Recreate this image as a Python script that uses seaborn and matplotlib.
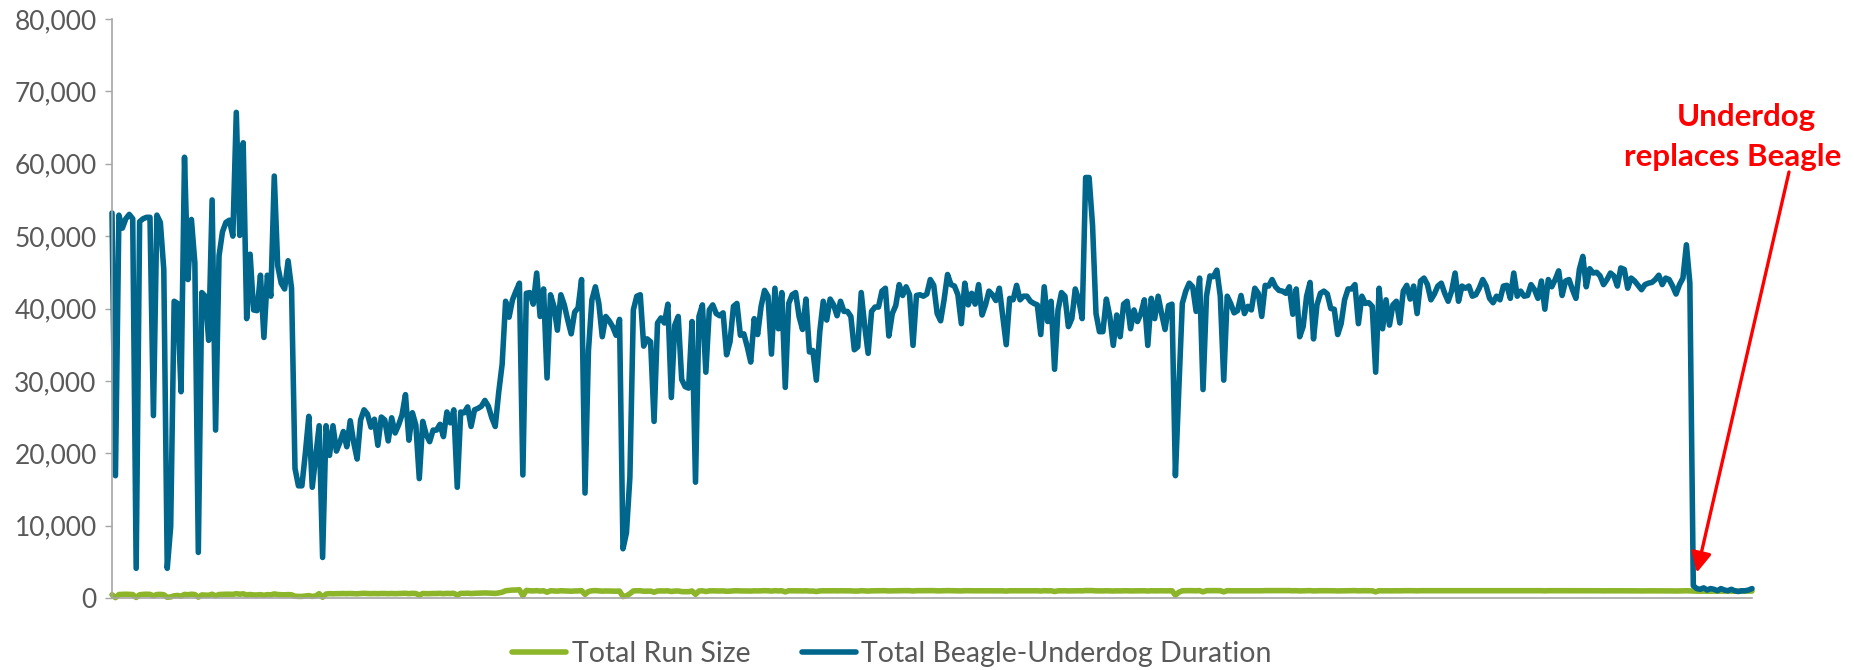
import numpy as np
import pandas as pd
import seaborn as sns
import matplotlib.pyplot as plt
from matplotlib.ticker import FuncFormatter

# Total Beagle-Underdog Duration, read left to right from the chart
duration_a = [53200, 16900, 52900, 51100, 52400, 53000, 52400, 4100, 52000, 52400, 52600, 52600, 25200, 52900,
              51900, 45400, 4100, 9900, 41000, 40700, 28500, 60900, 44000, 52300, 46300, 6300, 42200, 41700,
              35600, 55000, 23200, 47300, 50600, 51900, 52200, 50000, 67100, 50100, 62900, 38600, 47500, 39800,
              39700, 44600, 36000, 44600, 41700, 58300, 45900, 43500, 42700, 46600, 42800, 17900, 15500, 15500,
              20000, 25100, 15300, 19500]
duration_b = [23800, 5600, 23800, 19700, 23800, 20300, 21500, 23000, 20900, 24500, 21500, 19200, 24600, 26000,
              25400, 23600, 24700, 21100, 25000, 24600, 21700, 24900, 22800, 23900, 25300, 28100, 21800, 25600,
              23900, 16500, 24400, 22600, 21600, 23200, 23200, 24000, 22300, 25700, 24200, 26000, 15300, 25700,
              25600, 26400, 23700, 26000, 26200, 26500, 27300, 26500, 24900, 23700, 28400, 32300, 41000, 38800,
              41200, 42400, 43500, 17000, 42100]
duration_c = [42200, 40600, 44900, 38900, 42700, 30400, 41900, 40300, 37000, 41900, 40500, 38400, 36500, 39500,
              40100, 44000, 14500, 34200, 41200, 43000, 40700, 36100, 38900, 38300, 37500, 36300, 38500, 6800,
              9000, 16700, 39800, 41700, 41900, 34800, 35800, 35400, 24400, 38000, 38700, 38000, 40600, 27700,
              37700, 38900, 30200, 29200, 29000, 38200, 16000, 38900, 40500, 31200, 39800, 40500, 39300,
              39000, 39400, 33600, 35400, 40300, 40700]
duration_d = [36300, 36500, 34700, 32600, 38600, 36400, 40300, 42500, 41700, 33700, 42800, 37200, 42200, 29100,
              40700, 41900, 42200, 38900, 37100, 41300, 34000, 34200, 30100, 36800, 41000, 38400, 41300, 40500,
              39000, 41000, 39600, 39600, 38900, 34300, 34700, 42200, 37600, 33800, 39600, 40200, 40200, 42400,
              42800, 36200, 39300, 40400, 43300, 41800, 43000, 41900, 34900, 41800, 41900, 41700, 42000, 44000,
              43200, 39300, 38300, 41200, 44700]
duration_e = [43300, 43100, 41900, 37900, 43500, 40500, 42100, 40600, 43300, 39100, 40500, 42400, 41900, 41100,
              42800, 38900, 35000, 41400, 41200, 43200, 41200, 41700, 41700, 41000, 40700, 40500, 36400, 43000,
              38200, 41000, 31600, 39800, 42200, 41700, 37500, 38600, 42700, 41200, 38600, 58100, 58100, 51500,
              39300, 36800, 36800, 41300, 38900, 34900, 39100, 36100, 40600, 41000, 37200, 39800, 38200, 39300,
              41200, 34900, 41400, 38600, 41700]
duration_f = [39300, 37100, 40400, 40600, 16900, 29000, 40700, 42400, 43500, 43000, 39600, 44200, 28800, 41700,
              44500, 44400, 45300, 41700, 30100, 41700, 40700, 39400, 39700, 41800, 39300, 40300, 39800, 42800,
              42100, 38900, 43200, 43100, 44000, 43000, 42500, 42400, 42100, 43000, 39200, 42700, 36100, 37500,
              41700, 43600, 35800, 40500, 42100, 42400, 42000, 40000, 39900, 36400, 37900, 41200, 42700, 42700,
              43300, 37900, 41700, 40700, 40800]
duration_g = [40300, 31200, 42800, 37200, 41200, 37700, 40500, 41000, 38000, 42400, 43200, 41300, 43100, 39300,
              43800, 44200, 43300, 41200, 42000, 43100, 43500, 42100, 41000, 42400, 44900, 41000, 43100, 42800,
              43100, 41700, 41900, 42800, 44000, 43100, 41400, 40800, 41700, 41200, 43100, 43200, 41400,
              44900, 41700, 42400, 41700, 41800, 43300, 42600, 41400, 43800, 39900, 44000, 43000, 44000, 45200,
              41800, 43800, 44000, 42600, 41400, 45400]
duration_h = [47200, 43000, 45500, 44900, 45000, 44500, 43300, 44000, 44900, 44500, 43100, 45600, 45400, 42800,
              44200, 43800, 43200, 42600, 43300, 43500, 43600, 44000, 44600, 43300, 44200, 44000, 43100, 42000,
              43300, 44200, 48800, 43500]
duration_underdog = [1700, 1300, 1200, 1400, 1100, 1300, 1200, 1000, 1300, 1100, 1000, 1200, 1000, 900, 1000,
                     1000, 1100, 1300]

# Total Run Size
run_size_a = [450, 50, 480, 500, 520, 500, 480, 80, 450, 500, 520, 500, 300, 480, 500, 450, 100, 150, 300, 350,
              250, 500, 450, 520, 480, 120, 420, 400, 380, 520, 300, 480, 500, 520, 520, 500, 600, 520, 580, 420,
              480, 420, 420, 460, 380, 460, 440, 560, 480, 450, 440, 470, 440, 250, 220, 220, 280, 330, 220, 280]
run_size_b = [600, 100, 550, 600, 580, 600, 600, 620, 600, 620, 600, 580, 620, 640, 620, 600, 620, 600, 620, 620,
              600, 620, 600, 620, 640, 650, 600, 640, 620, 400, 620, 600, 600, 620, 620, 640, 600, 640, 620, 650,
              400, 640, 640, 660, 620, 650, 660, 680, 700, 680, 650, 640, 700, 800, 1000, 1050, 1100, 1100, 1150,
              300, 1050]
run_size_c = [1000, 980, 1020, 960, 1000, 800, 1000, 980, 950, 1000, 980, 960, 940, 970, 980, 1020, 500, 900, 1000,
              1020, 990, 950, 970, 960, 950, 940, 960, 200, 300, 600, 980, 1000, 1000, 940, 950, 950, 800, 970,
              980, 970, 990, 900, 960, 970, 880, 870, 870, 970, 500, 970, 990, 900, 980, 990, 980, 970, 980,
              930, 950, 990, 1000]
run_size_d = [980, 980, 970, 960, 990, 980, 1000, 1010, 1000, 960, 1010, 980, 1000, 850, 1000, 1000, 1010, 990,
              980, 1000, 960, 960, 900, 980, 1000, 990, 1000, 1000, 990, 1000, 990, 990, 990, 960, 960, 1010, 980,
              960, 990, 1000, 1000, 1010, 1010, 980, 990, 1000, 1020, 1010, 1020, 1010, 970, 1010, 1010, 1010,
              1010, 1020, 1020, 990, 990, 1010, 1020]
run_size_e = [1010, 1010, 1000, 980, 1010, 1000, 1000, 1000, 1010, 990, 1000, 1010, 1000, 1000, 1010, 990, 960,
              1000, 1000, 1010, 1000, 1000, 1000, 1000, 1000, 1000, 970, 1010, 990, 1000, 900, 990, 1000, 1000,
              980, 990, 1010, 1000, 990, 1030, 1030, 1020, 990, 980, 980, 1000, 990, 970, 990, 980, 1000, 1000,
              980, 990, 990, 990, 1000, 970, 1000, 990, 1000]
run_size_f = [1000, 990, 1000, 1000, 400, 800, 1000, 1010, 1020, 1010, 1000, 1020, 850, 1010, 1020, 1020, 1020,
              1010, 850, 1010, 1000, 1000, 1000, 1010, 1000, 1000, 1000, 1010, 1010, 1000, 1020, 1020, 1020, 1020,
              1010, 1010, 1010, 1020, 1000, 1010, 980, 990, 1010, 1020, 980, 1000, 1010, 1010, 1010, 1000, 1000,
              980, 990, 1010, 1010, 1010, 1020, 990, 1010, 1000, 1000]
run_size_g = [1000, 850, 1010, 990, 1000, 990, 1000, 1000, 990, 1010, 1010, 1000, 1010, 990, 1010, 1010, 1010,
              1000, 1000, 1010, 1010, 1000, 1000, 1010, 1020, 1000, 1010, 1010, 1010, 1000, 1000, 1010,
              1010, 1010, 1000, 1000, 1000, 1000, 1010, 1010, 1000, 1020, 1000, 1010, 1000, 1000, 1010, 1010,
              1000, 1010, 990, 1010, 1010, 1010, 1020, 1000, 1010, 1010, 1010, 1000, 1020]
run_size_h = [1010, 1000, 1010, 1000, 1000, 1000, 990, 1000, 1000, 1000, 990, 1000, 1000, 990, 1000, 990, 990,
              980, 990, 990, 990, 990, 1000, 990, 990, 990, 980, 970, 980, 990, 1000, 980]
run_size_underdog = [950, 950, 940, 950, 940, 950, 950, 940, 950, 940, 940, 950, 940, 930, 940, 950, 950, 960]

series_names = ["Total Run Size", "Total Beagle-Underdog Duration"]
y_ticks = [0, 10000, 20000, 30000, 40000, 50000, 60000, 70000, 80000]

duration = np.concatenate([duration_a, duration_b, duration_c, duration_d, duration_e,
                           duration_f, duration_g, duration_h, duration_underdog])
run_size = np.concatenate([run_size_a, run_size_b, run_size_c, run_size_d, run_size_e,
                           run_size_f, run_size_g, run_size_h, run_size_underdog])
runs = np.arange(len(duration))
switch_run = len(duration) - len(duration_underdog)

df = pd.DataFrame({
    "run": np.concatenate([runs, runs]),
    "value": np.concatenate([run_size, duration]),
    "series": [series_names[0]] * len(runs) + [series_names[1]] * len(runs),
})

sns.set_theme(style="white")
plt.rcParams["font.family"] = ["Lato", "DejaVu Sans"]

W, H = 1854, 670
fig = plt.figure(figsize=(W / 100, H / 100), dpi=100)
ax = fig.add_axes([112 / W, 1 - 598 / H, (1752 - 112) / W, (598 - 19) / H])

sns.lineplot(data=df, x="run", y="value", hue="series", hue_order=series_names,
             palette=["#8cb529", "#00668c"], linewidth=4.0, estimator=None, sort=False,
             solid_joinstyle="round", solid_capstyle="round", ax=ax)
for line in ax.lines:
    line.set_clip_on(False)

ax.set_xlim(0, len(runs) - 1)
ax.set_ylim(0, 80000)
ax.set_yticks(y_ticks)
ax.yaxis.set_major_formatter(FuncFormatter(lambda v, _: f"{v:,.0f}"))
ax.set_xticks([])
ax.set_xlabel("")
ax.set_ylabel("")
ax.tick_params(axis="y", left=True, length=5, width=1, color="#a6a6a6",
               labelcolor="#595959", labelsize=19, pad=6)
for side in ["top", "right"]:
    ax.spines[side].set_visible(False)
for side in ["left", "bottom"]:
    ax.spines[side].set_color("#a6a6a6")
    ax.spines[side].set_linewidth(1.2)

sns.move_legend(ax, "center", bbox_to_anchor=((892 - 112) / 1640, (598 - 654) / 579),
                ncol=2, title=None, frameon=False, fontsize=20.5, labelcolor="#595959",
                handlelength=1.9, handletextpad=0.2, columnspacing=1.8)

# annotation
fig.text(1746 / W, 1 - 117 / H, "Underdog", ha="center", va="center",
         color="#ff0000", fontweight="bold", fontsize=22.5)
fig.text(1733 / W, 1 - 157 / H, "replaces Beagle", ha="center", va="center",
         color="#ff0000", fontweight="bold", fontsize=22.5)
ax.annotate("", xy=(switch_run + 1, 3500), xycoords="data",
            xytext=(1789 / W, 1 - 172 / H), textcoords="figure fraction",
            arrowprops=dict(arrowstyle="-|>", color="#ff0000", lw=2.4, mutation_scale=30,
                            shrinkA=0, shrinkB=0))

fig.savefig("out.png", dpi=100)
